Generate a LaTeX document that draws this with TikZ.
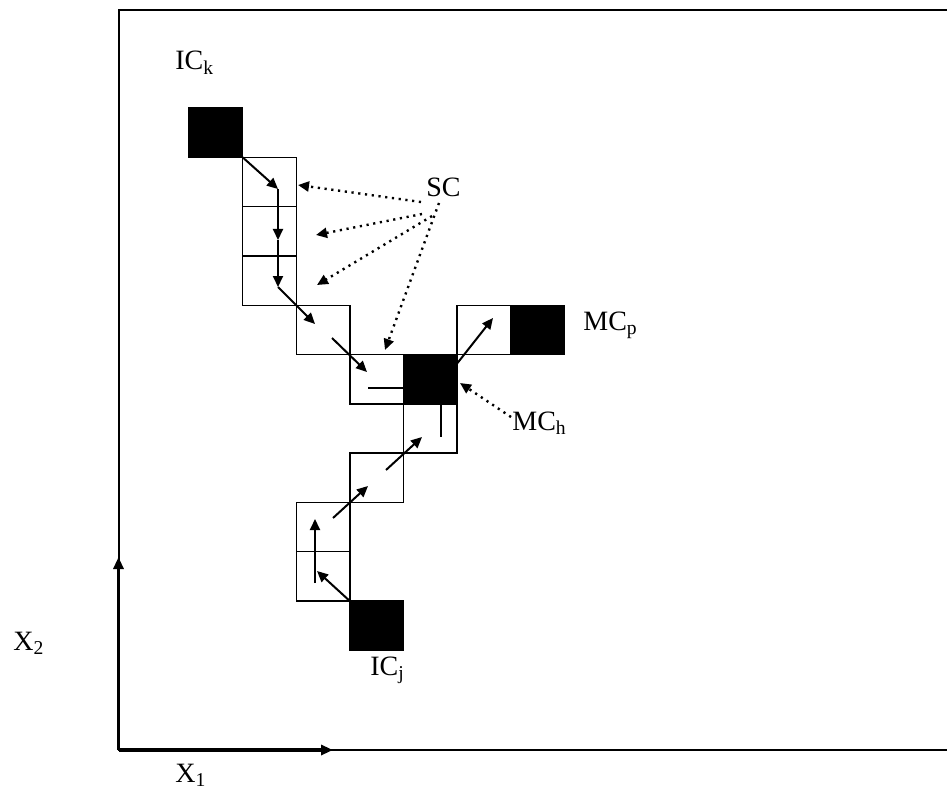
\documentclass[tikz,border=0pt]{standalone}
\usepackage{fontspec}
\setmainfont{Liberation Serif}
\usetikzlibrary{arrows.meta}
\newcommand\gridcell[4]{\node[#1] (#2) at ({189+53.6*#3},{108+49.3*#4}) {};}
\begin{document}
\begin{tikzpicture}[x=0.5pt,y=-0.5pt,
  cellbox/.style={draw,line width=0.7pt,minimum width=26.8pt,minimum height=24.65pt,inner sep=0pt,outer sep=0pt,anchor=north west},
  blackcell/.style={cellbox,fill=black},
  arr/.style={line width=1pt,-{Triangle[length=5.5pt,width=5pt]}},
  plainline/.style={line width=1pt},
  dotarr/.style={line width=1.2pt,dash pattern=on 1.1pt off 2.3pt,-{Triangle[length=5.5pt,width=5pt]}},
  lbl/.style={inner sep=0pt,anchor=base west,font=\fontsize{14}{16}\selectfont},
  framel/.style={line width=1pt},
  axisl/.style={line width=1.6pt,-{Triangle[length=6pt,width=5pt]}}]
\useasboundingbox (0,0) rectangle (947,791);

% frame and axes
\coordinate (o) at (118.5,750);
\coordinate (tl) at (118.5,10);
\coordinate (tr) at (947,10);
\coordinate (br) at (947,750);
\coordinate (xend) at (333,750);
\coordinate (yend) at (118.5,557);
\draw[framel] (br) -- (o) -- (tl) -- (tr);
\draw[axisl] (o) -- (yend);
\draw[axisl] (o) -- (xend);

% cells
\gridcell{blackcell}{ick}{0}{0}
\gridcell{cellbox}{s1}{1}{1}
\gridcell{cellbox}{s2}{1}{2}
\gridcell{cellbox}{s3}{1}{3}
\gridcell{cellbox}{s4}{2}{4}
\gridcell{cellbox}{s5}{3}{5}
\gridcell{blackcell}{mch}{4}{5}
\gridcell{cellbox}{s6}{5}{4}
\gridcell{blackcell}{mcp}{6}{4}
\gridcell{cellbox}{s7}{4}{6}
\gridcell{cellbox}{s8}{3}{7}
\gridcell{cellbox}{s9}{2}{8}
\gridcell{cellbox}{s10}{2}{9}
\gridcell{blackcell}{icj}{3}{10}

% path points
\coordinate (k1) at (278,189);
\coordinate (k2) at (278,240);
\coordinate (k3) at (278,287);
\coordinate (k4) at (315,324);
\coordinate (m1) at (332,338);
\coordinate (m2) at (367,372);
\coordinate (h1) at (368,388);
\coordinate (h2) at (441,437);
\coordinate (p0) at (457.5,363);
\coordinate (p1) at (493,318);
\coordinate (u1) at (386,470);
\coordinate (u2) at (422,437);
\coordinate (v1) at (333,518);
\coordinate (v2) at (368,486);
\coordinate (w1) at (315,583);
\coordinate (w2) at (315,519);
\coordinate (j1) at (317,571);

\draw[arr] (ick.south east) -- (k1);
\draw[arr] (k1) -- (k2);
\draw[arr] (k2) -- (k3);
\draw[arr] (k3) -- (k4);
\draw[arr] (m1) -- (m2);
\draw[plainline] (h1) -- (mch.west |- h1);
\draw[plainline] (mch.south -| h2) -- (h2);
\draw[arr] (p0) -- (p1);
\draw[arr] (u1) -- (u2);
\draw[arr] (v1) -- (v2);
\draw[arr] (w1) -- (w2);
\draw[arr] (icj.north west) -- (j1);

% labels
\node[lbl] (lick) at (175,70) {IC\textsubscript{k}};
\node[lbl] (sc) at (426,197) {SC};
\node[lbl] (lmcp) at (583,330) {MC\textsubscript{p}};
\node[lbl] (lmch) at (512,430) {MC\textsubscript{h}};
\node[lbl] (licj) at (370,675) {IC\textsubscript{j}};
\node[lbl] (lx2) at (13,650) {X\textsubscript{2}};
\node[lbl] (lx1) at (175,782) {X\textsubscript{1}};

% dotted pointers
\coordinate (d1) at (421,202);
\coordinate (d2) at (422,214);
\coordinate (d3) at (432,216);
\coordinate (d4) at (439,203);
\coordinate (t1) at (298,185);
\coordinate (t2) at (316,235);
\coordinate (t3) at (317,285);
\coordinate (t4) at (385,350);
\coordinate (mh) at (511,417);
\coordinate (th) at (460,383);
\draw[dotarr] (d1) -- (t1);
\draw[dotarr] (d2) -- (t2);
\draw[dotarr] (d3) -- (t3);
\draw[dotarr] (d4) -- (t4);
\draw[dotarr] (mh) -- (th);
\end{tikzpicture}
\end{document}
